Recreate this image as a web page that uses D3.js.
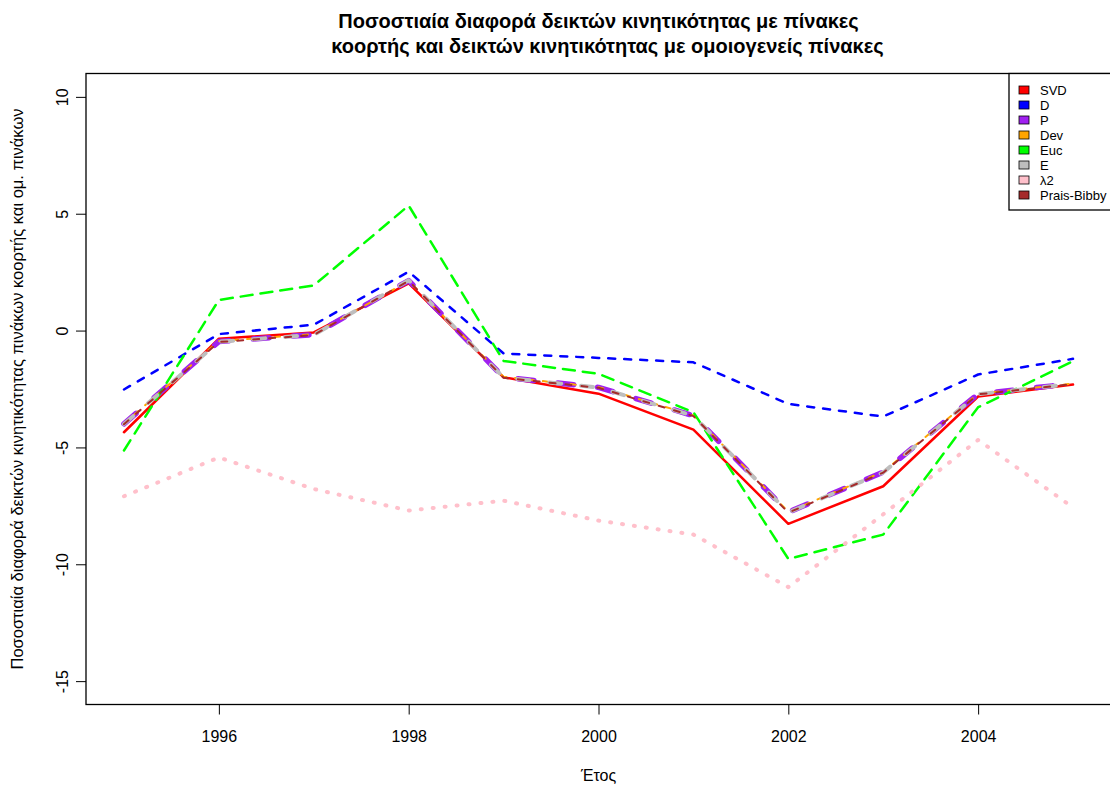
<!DOCTYPE html>
<html>
<head>
<meta charset="utf-8">
<script src="https://cdn.jsdelivr.net/npm/d3@7"></script>
<style>
  body { margin: 0; background: #fff; }
  text { font-family: Arial, "Liberation Sans", sans-serif; fill: #000; }
</style>
</head>
<body>
<svg id="chart" width="1110" height="787"></svg>
<script>
// ---- data ----
const years = [1995, 1996, 1997, 1998, 1999, 2000, 2001, 2002, 2003, 2004, 2005];
const svd   = [-4.35, -0.35, -0.08, 2.02, -2.00, -2.70, -4.24, -8.27, -6.66, -2.82, -2.31];
const dIdx  = [-2.52, -0.15, 0.25, 2.52, -0.98, -1.17, -1.36, -3.14, -3.68, -1.88, -1.21];
const pIdx  = [-3.99, -0.47, -0.17, 2.14, -2.00, -2.43, -3.64, -7.77, -6.06, -2.71, -2.27];
const dev   = [-3.98, -0.45, -0.15, 2.12, -1.98, -2.42, -3.62, -7.75, -6.04, -2.70, -2.27];
const euc   = [-5.13, 1.31, 1.93, 5.35, -1.30, -1.85, -3.49, -9.77, -8.73, -3.28, -1.31];
const eIdx  = [-4.00, -0.48, -0.18, 2.15, -2.01, -2.44, -3.65, -7.78, -6.07, -2.72, -2.28];
const lambda2 = [-7.09, -5.43, -6.78, -7.70, -7.28, -8.13, -8.73, -10.98, -7.86, -4.68, -7.57];
const praisBibby = [-4.01, -0.49, -0.19, 2.13, -2.02, -2.45, -3.66, -7.79, -6.08, -2.73, -2.29];

const seriesNames = ["SVD", "D", "P", "Dev", "Euc", "E", "λ2", "Prais-Bibby"];
const seriesValues = [svd, dIdx, pIdx, dev, euc, eIdx, lambda2, praisBibby];
const xTicks = [1996, 1998, 2000, 2002, 2004];
const yTicks = [-15, -10, -5, 0, 5, 10];

const titleLines = ["Ποσοστιαία διαφορά δεικτών κινητικότητας με πίνακες",
                    "κοορτής και δεικτών κινητικότητας με ομοιογενείς πίνακες"];
const xTitle = "Έτος";
const yTitle = "Ποσοστιαία διαφορά δεικτών κινητικότητας πινάκων κοορτής και ομ. πινάκων";

// ---- line styles (colour, width, dash pattern) ----
const styles = {
  "SVD":         { color: "#FF0000", width: 2.5, dash: null },
  "D":           { color: "#0000FF", width: 2.5, dash: "7,9" },
  "P":           { color: "#A020F0", width: 5.5, dash: "16,24" },
  "Dev":         { color: "#FFA500", width: 2,   dash: "5,9" },
  "Euc":         { color: "#00FF00", width: 2.5, dash: "12,8" },
  "E":           { color: "#BEBEBE", width: 4,   dash: "12,20" },
  "λ2":          { color: "#FFC0CB", width: 4,   dash: "1,11" },
  "Prais-Bibby": { color: "#A52A2A", width: 2,   dash: "6,10" }
};

// ---- layout ----
const plot = { left: 86, right: 1111, top: 73.5, bottom: 704.5 };
const svg = d3.select("#chart");

const x = d3.scaleLinear().domain([1994.6, 2005.4]).range([plot.left, plot.right]);
const y = d3.scaleLinear().domain([-16, 11]).range([plot.bottom, plot.top]);

// series lines
const line = d3.line().x(d => x(d[0])).y(d => y(d[1]));
seriesNames.forEach((name, i) => {
  const st = styles[name];
  svg.append("path")
    .datum(years.map((yr, j) => [yr, seriesValues[i][j]]))
    .attr("d", line)
    .attr("fill", "none")
    .attr("stroke", st.color)
    .attr("stroke-width", st.width)
    .attr("stroke-dasharray", st.dash)
    .attr("stroke-linecap", "round")
    .attr("stroke-linejoin", "round");
});

// frame
svg.append("rect")
  .attr("x", plot.left).attr("y", plot.top)
  .attr("width", plot.right - plot.left).attr("height", plot.bottom - plot.top)
  .attr("fill", "none").attr("stroke", "#000").attr("stroke-width", 1.3);

// x axis
const gx = svg.append("g")
  .attr("transform", `translate(0,${plot.bottom})`)
  .call(d3.axisBottom(x).tickValues(xTicks).tickFormat(d3.format("d")).tickSize(10).tickPadding(16));
gx.select(".domain").remove();
gx.selectAll(".tick line").attr("stroke", "#000").attr("stroke-width", 1);
gx.selectAll(".tick text").attr("font-size", 16).attr("font-family", "Arial, 'Liberation Sans', sans-serif");

// y axis (labels rotated, reading upward)
const gy = svg.append("g")
  .attr("transform", `translate(${plot.left},0)`)
  .call(d3.axisLeft(y).tickValues(yTicks).tickSize(10).tickFormat(d => d));
gy.select(".domain").remove();
gy.selectAll(".tick line").attr("stroke", "#000").attr("stroke-width", 1);
gy.selectAll(".tick text")
  .attr("font-size", 16)
  .attr("font-family", "Arial, 'Liberation Sans', sans-serif")
  .attr("x", null).attr("dy", "0")
  .attr("text-anchor", "middle")
  .attr("transform", "translate(-18,0) rotate(-90)");

// titles
const cx = (plot.left + plot.right) / 2;
svg.append("text").attr("x", cx).attr("y", 28).attr("text-anchor", "middle")
  .attr("font-size", 20).attr("font-weight", "bold").text(titleLines[0]);
svg.append("text").attr("x", cx + 9).attr("y", 53).attr("text-anchor", "middle")
  .attr("font-size", 20).attr("font-weight", "bold").text(titleLines[1]);
svg.append("text").attr("x", cx).attr("y", 781).attr("text-anchor", "middle")
  .attr("font-size", 16).text(xTitle);
svg.append("text")
  .attr("transform", `translate(23,${(plot.top + plot.bottom) / 2}) rotate(-90)`)
  .attr("text-anchor", "middle").attr("font-size", 16.5).text(yTitle);

// legend
const lg = svg.append("g");
const lgTop = plot.top, lgLeft = 1009, lgRow = 15;
lg.append("rect").attr("x", lgLeft).attr("y", lgTop)
  .attr("width", plot.right - lgLeft).attr("height", 210 - lgTop)
  .attr("fill", "#fff").attr("stroke", "#000").attr("stroke-width", 1.3);
seriesNames.forEach((name, i) => {
  const cy = 90 + i * lgRow;
  lg.append("rect").attr("x", 1019).attr("y", cy - 4).attr("width", 10).attr("height", 8)
    .attr("fill", styles[name].color).attr("stroke", "#000").attr("stroke-width", 0.8);
  lg.append("text").attr("x", 1040).attr("y", cy + 4.5).attr("font-size", 13).text(name);
});
</script>
</body>
</html>
